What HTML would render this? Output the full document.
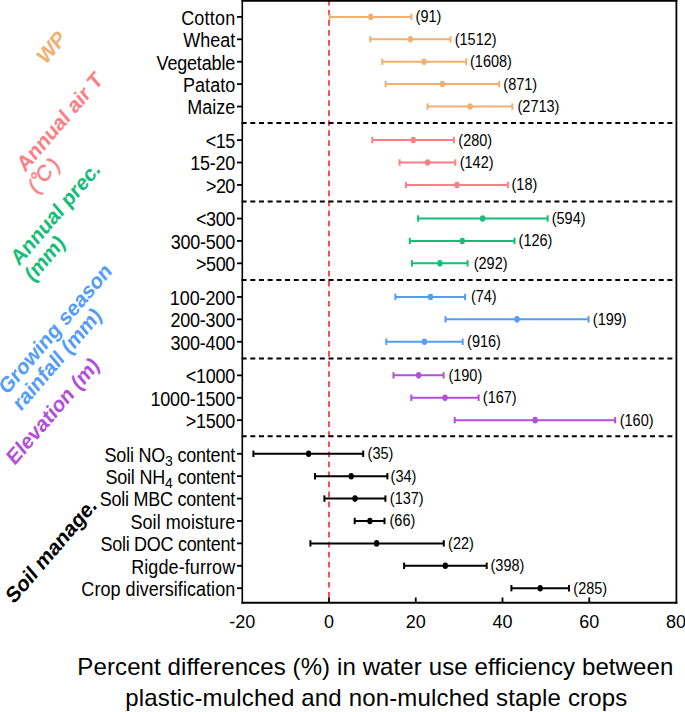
<!DOCTYPE html><html><head><meta charset="utf-8"><style>html,body{margin:0;padding:0;background:#fff;width:685px;height:712px;overflow:hidden}svg{display:block}text{font-family:"Liberation Sans",sans-serif}</style></head><body>
<svg width="685" height="712" viewBox="0 0 685 712">
<rect width="685" height="712" fill="#fff"/>
<line x1="329.00" y1="0" x2="329.00" y2="602.7" stroke="#FF4D57" stroke-width="2" stroke-dasharray="5.7 4.335" stroke-dashoffset="0.135"/>
<line x1="241.60" y1="123.0" x2="676.4" y2="123.0" stroke="#000" stroke-width="2" stroke-dasharray="5 3.69"/>
<line x1="241.60" y1="201.5" x2="676.4" y2="201.5" stroke="#000" stroke-width="2" stroke-dasharray="5 3.69"/>
<line x1="241.60" y1="280.0" x2="676.4" y2="280.0" stroke="#000" stroke-width="2" stroke-dasharray="5 3.69"/>
<line x1="241.60" y1="358.4" x2="676.4" y2="358.4" stroke="#000" stroke-width="2" stroke-dasharray="5 3.69"/>
<line x1="241.60" y1="436.3" x2="676.4" y2="436.3" stroke="#000" stroke-width="2" stroke-dasharray="5 3.69"/>
<g stroke="#F0B072" stroke-width="2.0" fill="none"><line x1="329.8" y1="16.90" x2="411.4" y2="16.90"/><line x1="329.8" y1="13.70" x2="329.8" y2="20.10"/><line x1="411.4" y1="13.70" x2="411.4" y2="20.10"/></g>
<ellipse cx="370.7" cy="16.90" rx="2.65" ry="3.3" fill="#F0B072"/>
<text transform="translate(415.60,22.40) scale(1,1.13)" font-size="14.5" fill="#000">(91)</text>
<line x1="237" y1="16.90" x2="242.3" y2="16.90" stroke="#000" stroke-width="1.8"/>
<text transform="translate(235.2,24.80) scale(1,1.1)" font-size="18" text-anchor="end" fill="#000" textLength="54.05">Cotton</text>
<g stroke="#F0B072" stroke-width="2.0" fill="none"><line x1="370.3" y1="39.30" x2="450.5" y2="39.30"/><line x1="370.3" y1="36.10" x2="370.3" y2="42.50"/><line x1="450.5" y1="36.10" x2="450.5" y2="42.50"/></g>
<ellipse cx="410.5" cy="39.30" rx="2.65" ry="3.3" fill="#F0B072"/>
<text transform="translate(454.70,44.80) scale(1,1.13)" font-size="14.5" fill="#000">(1512)</text>
<line x1="237" y1="39.30" x2="242.3" y2="39.30" stroke="#000" stroke-width="1.8"/>
<text transform="translate(235.2,47.20) scale(1,1.1)" font-size="18" text-anchor="end" fill="#000" textLength="52.03">Wheat</text>
<g stroke="#F0B072" stroke-width="2.0" fill="none"><line x1="382.3" y1="61.71" x2="466.2" y2="61.71"/><line x1="382.3" y1="58.51" x2="382.3" y2="64.91"/><line x1="466.2" y1="58.51" x2="466.2" y2="64.91"/></g>
<ellipse cx="424.1" cy="61.71" rx="2.65" ry="3.3" fill="#F0B072"/>
<text transform="translate(470.00,67.21) scale(1,1.13)" font-size="14.5" fill="#000">(1608)</text>
<line x1="237" y1="61.71" x2="242.3" y2="61.71" stroke="#000" stroke-width="1.8"/>
<text transform="translate(235.2,69.61) scale(1,1.1)" font-size="18" text-anchor="end" fill="#000" textLength="78.68">Vegetable</text>
<g stroke="#F0B072" stroke-width="2.0" fill="none"><line x1="385.6" y1="84.11" x2="499.1" y2="84.11"/><line x1="385.6" y1="80.91" x2="385.6" y2="87.31"/><line x1="499.1" y1="80.91" x2="499.1" y2="87.31"/></g>
<ellipse cx="442.3" cy="84.11" rx="2.65" ry="3.3" fill="#F0B072"/>
<text transform="translate(503.30,89.61) scale(1,1.13)" font-size="14.5" fill="#000">(871)</text>
<line x1="237" y1="84.11" x2="242.3" y2="84.11" stroke="#000" stroke-width="1.8"/>
<text transform="translate(235.2,92.01) scale(1,1.1)" font-size="18" text-anchor="end" fill="#000" textLength="52.15">Patato</text>
<g stroke="#F0B072" stroke-width="2.0" fill="none"><line x1="427.5" y1="106.52" x2="512.3" y2="106.52"/><line x1="427.5" y1="103.32" x2="427.5" y2="109.72"/><line x1="512.3" y1="103.32" x2="512.3" y2="109.72"/></g>
<ellipse cx="470.1" cy="106.52" rx="2.65" ry="3.3" fill="#F0B072"/>
<text transform="translate(517.50,112.02) scale(1,1.13)" font-size="14.5" fill="#000">(2713)</text>
<line x1="237" y1="106.52" x2="242.3" y2="106.52" stroke="#000" stroke-width="1.8"/>
<text transform="translate(235.2,114.42) scale(1,1.1)" font-size="18" text-anchor="end" fill="#000" textLength="47.92">Maize</text>
<g stroke="#FF7E83" stroke-width="2.0" fill="none"><line x1="372.3" y1="140.12" x2="453.9" y2="140.12"/><line x1="372.3" y1="136.92" x2="372.3" y2="143.32"/><line x1="453.9" y1="136.92" x2="453.9" y2="143.32"/></g>
<ellipse cx="413.3" cy="140.12" rx="2.65" ry="3.3" fill="#FF7E83"/>
<text transform="translate(458.30,145.62) scale(1,1.13)" font-size="14.5" fill="#000">(280)</text>
<line x1="237" y1="140.12" x2="242.3" y2="140.12" stroke="#000" stroke-width="1.8"/>
<text transform="translate(235.2,148.02) scale(1,1.1)" font-size="18" text-anchor="end" fill="#000" textLength="29.45">&lt;15</text>
<g stroke="#FF7E83" stroke-width="2.0" fill="none"><line x1="399.6" y1="162.53" x2="455.3" y2="162.53"/><line x1="399.6" y1="159.33" x2="399.6" y2="165.73"/><line x1="455.3" y1="159.33" x2="455.3" y2="165.73"/></g>
<ellipse cx="427.6" cy="162.53" rx="2.65" ry="3.3" fill="#FF7E83"/>
<text transform="translate(459.70,168.03) scale(1,1.13)" font-size="14.5" fill="#000">(142)</text>
<line x1="237" y1="162.53" x2="242.3" y2="162.53" stroke="#000" stroke-width="1.8"/>
<text transform="translate(235.2,170.43) scale(1,1.1)" font-size="18" text-anchor="end" fill="#000" textLength="44.95">15-20</text>
<g stroke="#FF7E83" stroke-width="2.0" fill="none"><line x1="405.9" y1="184.93" x2="507.9" y2="184.93"/><line x1="405.9" y1="181.73" x2="405.9" y2="188.13"/><line x1="507.9" y1="181.73" x2="507.9" y2="188.13"/></g>
<ellipse cx="457.0" cy="184.93" rx="2.65" ry="3.3" fill="#FF7E83"/>
<text transform="translate(511.50,190.43) scale(1,1.13)" font-size="14.5" fill="#000">(18)</text>
<line x1="237" y1="184.93" x2="242.3" y2="184.93" stroke="#000" stroke-width="1.8"/>
<text transform="translate(235.2,192.83) scale(1,1.1)" font-size="18" text-anchor="end" fill="#000" textLength="29.15">&gt;20</text>
<g stroke="#12BE78" stroke-width="2.0" fill="none"><line x1="418.1" y1="218.54" x2="547.6" y2="218.54"/><line x1="418.1" y1="215.34" x2="418.1" y2="221.74"/><line x1="547.6" y1="215.34" x2="547.6" y2="221.74"/></g>
<ellipse cx="482.6" cy="218.54" rx="2.65" ry="3.3" fill="#12BE78"/>
<text transform="translate(551.70,224.04) scale(1,1.13)" font-size="14.5" fill="#000">(594)</text>
<line x1="237" y1="218.54" x2="242.3" y2="218.54" stroke="#000" stroke-width="1.8"/>
<text transform="translate(235.2,226.44) scale(1,1.1)" font-size="18" text-anchor="end" fill="#000" textLength="39.15">&lt;300</text>
<g stroke="#12BE78" stroke-width="2.0" fill="none"><line x1="409.8" y1="240.94" x2="514.5" y2="240.94"/><line x1="409.8" y1="237.74" x2="409.8" y2="244.14"/><line x1="514.5" y1="237.74" x2="514.5" y2="244.14"/></g>
<ellipse cx="462.3" cy="240.94" rx="2.65" ry="3.3" fill="#12BE78"/>
<text transform="translate(518.60,246.44) scale(1,1.13)" font-size="14.5" fill="#000">(126)</text>
<line x1="237" y1="240.94" x2="242.3" y2="240.94" stroke="#000" stroke-width="1.8"/>
<text transform="translate(235.2,248.84) scale(1,1.1)" font-size="18" text-anchor="end" fill="#000" textLength="64.56">300-500</text>
<g stroke="#12BE78" stroke-width="2.0" fill="none"><line x1="411.9" y1="263.34" x2="467.6" y2="263.34"/><line x1="411.9" y1="260.14" x2="411.9" y2="266.54"/><line x1="467.6" y1="260.14" x2="467.6" y2="266.54"/></g>
<ellipse cx="439.9" cy="263.34" rx="2.65" ry="3.3" fill="#12BE78"/>
<text transform="translate(473.70,268.84) scale(1,1.13)" font-size="14.5" fill="#000">(292)</text>
<line x1="237" y1="263.34" x2="242.3" y2="263.34" stroke="#000" stroke-width="1.8"/>
<text transform="translate(235.2,271.24) scale(1,1.1)" font-size="18" text-anchor="end" fill="#000" textLength="39.15">&gt;500</text>
<g stroke="#529CFA" stroke-width="2.0" fill="none"><line x1="395.4" y1="296.95" x2="465.1" y2="296.95"/><line x1="395.4" y1="293.75" x2="395.4" y2="300.15"/><line x1="465.1" y1="293.75" x2="465.1" y2="300.15"/></g>
<ellipse cx="430.5" cy="296.95" rx="2.65" ry="3.3" fill="#529CFA"/>
<text transform="translate(470.90,302.45) scale(1,1.13)" font-size="14.5" fill="#000">(74)</text>
<line x1="237" y1="296.95" x2="242.3" y2="296.95" stroke="#000" stroke-width="1.8"/>
<text transform="translate(235.2,304.85) scale(1,1.1)" font-size="18" text-anchor="end" fill="#000" textLength="65.36">100-200</text>
<g stroke="#529CFA" stroke-width="2.0" fill="none"><line x1="445.5" y1="319.35" x2="588.5" y2="319.35"/><line x1="445.5" y1="316.15" x2="445.5" y2="322.55"/><line x1="588.5" y1="316.15" x2="588.5" y2="322.55"/></g>
<ellipse cx="517.0" cy="319.35" rx="2.65" ry="3.3" fill="#529CFA"/>
<text transform="translate(592.80,324.85) scale(1,1.13)" font-size="14.5" fill="#000">(199)</text>
<line x1="237" y1="319.35" x2="242.3" y2="319.35" stroke="#000" stroke-width="1.8"/>
<text transform="translate(235.2,327.25) scale(1,1.1)" font-size="18" text-anchor="end" fill="#000" textLength="64.76">200-300</text>
<g stroke="#529CFA" stroke-width="2.0" fill="none"><line x1="386.3" y1="341.76" x2="462.7" y2="341.76"/><line x1="386.3" y1="338.56" x2="386.3" y2="344.96"/><line x1="462.7" y1="338.56" x2="462.7" y2="344.96"/></g>
<ellipse cx="424.5" cy="341.76" rx="2.65" ry="3.3" fill="#529CFA"/>
<text transform="translate(467.10,347.26) scale(1,1.13)" font-size="14.5" fill="#000">(916)</text>
<line x1="237" y1="341.76" x2="242.3" y2="341.76" stroke="#000" stroke-width="1.8"/>
<text transform="translate(235.2,349.66) scale(1,1.1)" font-size="18" text-anchor="end" fill="#000" textLength="64.76">300-400</text>
<g stroke="#B24FD9" stroke-width="2.0" fill="none"><line x1="393.5" y1="375.36" x2="443.6" y2="375.36"/><line x1="393.5" y1="372.16" x2="393.5" y2="378.56"/><line x1="443.6" y1="372.16" x2="443.6" y2="378.56"/></g>
<ellipse cx="418.6" cy="375.36" rx="2.65" ry="3.3" fill="#B24FD9"/>
<text transform="translate(448.40,380.86) scale(1,1.13)" font-size="14.5" fill="#000">(190)</text>
<line x1="237" y1="375.36" x2="242.3" y2="375.36" stroke="#000" stroke-width="1.8"/>
<text transform="translate(235.2,383.26) scale(1,1.1)" font-size="18" text-anchor="end" fill="#000" textLength="49.56">&lt;1000</text>
<g stroke="#B24FD9" stroke-width="2.0" fill="none"><line x1="411.3" y1="397.77" x2="478.6" y2="397.77"/><line x1="411.3" y1="394.57" x2="411.3" y2="400.97"/><line x1="478.6" y1="394.57" x2="478.6" y2="400.97"/></g>
<ellipse cx="445.0" cy="397.77" rx="2.65" ry="3.3" fill="#B24FD9"/>
<text transform="translate(482.80,403.27) scale(1,1.13)" font-size="14.5" fill="#000">(167)</text>
<line x1="237" y1="397.77" x2="242.3" y2="397.77" stroke="#000" stroke-width="1.8"/>
<text transform="translate(235.2,405.67) scale(1,1.1)" font-size="18" text-anchor="end" fill="#000" textLength="84.79">1000-1500</text>
<g stroke="#B24FD9" stroke-width="2.0" fill="none"><line x1="454.7" y1="420.17" x2="615.2" y2="420.17"/><line x1="454.7" y1="416.97" x2="454.7" y2="423.37"/><line x1="615.2" y1="416.97" x2="615.2" y2="423.37"/></g>
<ellipse cx="535.1" cy="420.17" rx="2.65" ry="3.3" fill="#B24FD9"/>
<text transform="translate(619.70,425.67) scale(1,1.13)" font-size="14.5" fill="#000">(160)</text>
<line x1="237" y1="420.17" x2="242.3" y2="420.17" stroke="#000" stroke-width="1.8"/>
<text transform="translate(235.2,428.07) scale(1,1.1)" font-size="18" text-anchor="end" fill="#000" textLength="49.56">&gt;1500</text>
<g stroke="#000000" stroke-width="2.0" fill="none"><line x1="253.4" y1="453.78" x2="363.2" y2="453.78"/><line x1="253.4" y1="450.58" x2="253.4" y2="456.98"/><line x1="363.2" y1="450.58" x2="363.2" y2="456.98"/></g>
<ellipse cx="308.6" cy="453.78" rx="2.65" ry="3.3" fill="#000000"/>
<text transform="translate(367.60,459.28) scale(1,1.13)" font-size="14.5" fill="#000">(35)</text>
<line x1="237" y1="453.78" x2="242.3" y2="453.78" stroke="#000" stroke-width="1.8"/>
<text transform="translate(235.2,461.68) scale(1,1.1)" font-size="18" text-anchor="end" fill="#000" textLength="130.66">Soli NO<tspan font-size="14" dy="4">3</tspan><tspan dy="-4"> content</tspan></text>
<g stroke="#000000" stroke-width="2.0" fill="none"><line x1="315.0" y1="476.18" x2="387.4" y2="476.18"/><line x1="315.0" y1="472.98" x2="315.0" y2="479.38"/><line x1="387.4" y1="472.98" x2="387.4" y2="479.38"/></g>
<ellipse cx="351.2" cy="476.18" rx="2.65" ry="3.3" fill="#000000"/>
<text transform="translate(390.60,481.68) scale(1,1.13)" font-size="14.5" fill="#000">(34)</text>
<line x1="237" y1="476.18" x2="242.3" y2="476.18" stroke="#000" stroke-width="1.8"/>
<text transform="translate(235.2,484.08) scale(1,1.1)" font-size="18" text-anchor="end" fill="#000" textLength="129.76">Soil NH<tspan font-size="14" dy="4">4</tspan><tspan dy="-4"> content</tspan></text>
<g stroke="#000000" stroke-width="2.0" fill="none"><line x1="324.4" y1="498.59" x2="385.4" y2="498.59"/><line x1="324.4" y1="495.39" x2="324.4" y2="501.79"/><line x1="385.4" y1="495.39" x2="385.4" y2="501.79"/></g>
<ellipse cx="355.0" cy="498.59" rx="2.65" ry="3.3" fill="#000000"/>
<text transform="translate(389.80,504.09) scale(1,1.13)" font-size="14.5" fill="#000">(137)</text>
<line x1="237" y1="498.59" x2="242.3" y2="498.59" stroke="#000" stroke-width="1.8"/>
<text transform="translate(235.2,506.49) scale(1,1.1)" font-size="18" text-anchor="end" fill="#000" textLength="135.56">Soli MBC content</text>
<g stroke="#000000" stroke-width="2.0" fill="none"><line x1="354.7" y1="520.99" x2="384.5" y2="520.99"/><line x1="354.7" y1="517.79" x2="354.7" y2="524.19"/><line x1="384.5" y1="517.79" x2="384.5" y2="524.19"/></g>
<ellipse cx="369.9" cy="520.99" rx="2.65" ry="3.3" fill="#000000"/>
<text transform="translate(389.50,526.49) scale(1,1.13)" font-size="14.5" fill="#000">(66)</text>
<line x1="237" y1="520.99" x2="242.3" y2="520.99" stroke="#000" stroke-width="1.8"/>
<text transform="translate(235.2,528.89) scale(1,1.1)" font-size="18" text-anchor="end" fill="#000" textLength="104.75">Soil moisture</text>
<g stroke="#000000" stroke-width="2.0" fill="none"><line x1="310.4" y1="543.39" x2="443.8" y2="543.39"/><line x1="310.4" y1="540.19" x2="310.4" y2="546.59"/><line x1="443.8" y1="540.19" x2="443.8" y2="546.59"/></g>
<ellipse cx="376.6" cy="543.39" rx="2.65" ry="3.3" fill="#000000"/>
<text transform="translate(448.10,548.89) scale(1,1.13)" font-size="14.5" fill="#000">(22)</text>
<line x1="237" y1="543.39" x2="242.3" y2="543.39" stroke="#000" stroke-width="1.8"/>
<text transform="translate(235.2,551.29) scale(1,1.1)" font-size="18" text-anchor="end" fill="#000" textLength="134.66">Soli DOC content</text>
<g stroke="#000000" stroke-width="2.0" fill="none"><line x1="404.1" y1="565.80" x2="486.7" y2="565.80"/><line x1="404.1" y1="562.60" x2="404.1" y2="569.00"/><line x1="486.7" y1="562.60" x2="486.7" y2="569.00"/></g>
<ellipse cx="445.3" cy="565.80" rx="2.65" ry="3.3" fill="#000000"/>
<text transform="translate(490.50,571.30) scale(1,1.13)" font-size="14.5" fill="#000">(398)</text>
<line x1="237" y1="565.80" x2="242.3" y2="565.80" stroke="#000" stroke-width="1.8"/>
<text transform="translate(235.2,573.70) scale(1,1.1)" font-size="18" text-anchor="end" fill="#000" textLength="104.05">Rigde-furrow</text>
<g stroke="#000000" stroke-width="2.0" fill="none"><line x1="511.4" y1="588.20" x2="569.0" y2="588.20"/><line x1="511.4" y1="585.00" x2="511.4" y2="591.40"/><line x1="569.0" y1="585.00" x2="569.0" y2="591.40"/></g>
<ellipse cx="540.2" cy="588.20" rx="2.65" ry="3.3" fill="#000000"/>
<text transform="translate(573.30,593.70) scale(1,1.13)" font-size="14.5" fill="#000">(285)</text>
<line x1="237" y1="588.20" x2="242.3" y2="588.20" stroke="#000" stroke-width="1.8"/>
<text transform="translate(235.2,596.10) scale(1,1.1)" font-size="18" text-anchor="end" fill="#000" textLength="153.86">Crop diversification</text>
<line x1="242.3" y1="0" x2="242.3" y2="603.7" stroke="#000" stroke-width="1.6"/>
<line x1="676.4" y1="0" x2="676.4" y2="603.7" stroke="#000" stroke-width="1.8"/>
<line x1="241.5" y1="0.9" x2="677.3" y2="0.9" stroke="#000" stroke-width="1.8"/>
<line x1="241.5" y1="602.7" x2="677.3" y2="602.7" stroke="#000" stroke-width="2"/>
<line x1="329.00" y1="597.5" x2="329.00" y2="602.7" stroke="#000" stroke-width="1.8"/>
<line x1="415.75" y1="597.5" x2="415.75" y2="602.7" stroke="#000" stroke-width="1.8"/>
<line x1="502.50" y1="597.5" x2="502.50" y2="602.7" stroke="#000" stroke-width="1.8"/>
<line x1="589.25" y1="597.5" x2="589.25" y2="602.7" stroke="#000" stroke-width="1.8"/>
<text transform="translate(242.25,628) scale(1,1.05)" font-size="18" text-anchor="middle" fill="#000">-20</text>
<text transform="translate(329.00,628) scale(1,1.05)" font-size="18" text-anchor="middle" fill="#000">0</text>
<text transform="translate(415.75,628) scale(1,1.05)" font-size="18" text-anchor="middle" fill="#000">20</text>
<text transform="translate(502.50,628) scale(1,1.05)" font-size="18" text-anchor="middle" fill="#000">40</text>
<text transform="translate(589.25,628) scale(1,1.05)" font-size="18" text-anchor="middle" fill="#000">60</text>
<text transform="translate(676.00,628) scale(1,1.05)" font-size="18" text-anchor="middle" fill="#000">80</text>
<text x="375.35" y="674.8" font-size="24" text-anchor="middle" fill="#000" textLength="596">Percent differences (%) in water use efficiency between</text>
<text x="376.25" y="706.2" font-size="24" text-anchor="middle" fill="#000" textLength="502">plastic-mulched and non-mulched staple crops</text>
<text transform="translate(45.2,65.6) scale(1,1.165) rotate(-45)" font-size="19.3" font-weight="bold" fill="#F0B072"><tspan x="0" y="0.00" >WP</tspan></text>
<text transform="translate(24.97,172.98) scale(1,1.165) rotate(-45)" font-size="19.3" font-weight="bold" fill="#FF7E83"><tspan x="0" y="0.00" >Annual air T</tspan><tspan x="-5.3" y="21.34" font-weight="normal" stroke="#FF7E83" stroke-width="0.45">(<tspan dy="-2.5">°</tspan><tspan dx="-2.5" dy="1.5">C</tspan><tspan dx="2.5" dy="1">)</tspan></tspan></text>
<text transform="translate(18.75,266.85) scale(1,1.165) rotate(-45)" font-size="19.3" font-weight="bold" fill="#12BE78"><tspan x="0" y="0.00" >Annual prec.</tspan><tspan x="0" y="19.74" >(mm)</tspan></text>
<text transform="translate(6.73,395.84) scale(1,1.165) rotate(-45)" font-size="19.3" font-weight="bold" fill="#529CFA"><tspan x="0" y="0.00" >Growing season</tspan><tspan x="0" y="19.74" >rainfall (mm)</tspan></text>
<text transform="translate(14.57,466.33) scale(1,1.165) rotate(-45)" font-size="19.3" font-weight="bold" fill="#B24FD9"><tspan x="0" y="0.00" >Elevation (m)</tspan></text>
<text transform="translate(13.79,604.8) scale(1,1.165) rotate(-45)" font-size="19.3" font-weight="bold" fill="#000000"><tspan x="0" y="0.00" >Soil manage.</tspan></text>
</svg></body></html>
